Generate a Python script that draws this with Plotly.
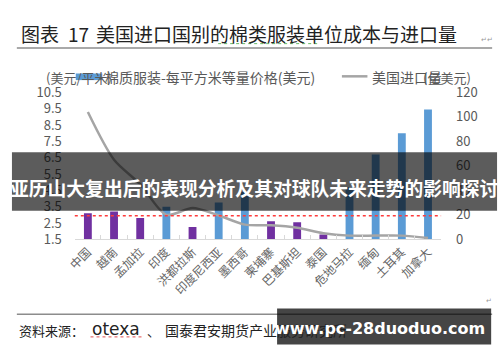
import plotly.graph_objects as go

# ---------------- data ----------------
categories = ["中国", "越南", "孟加拉", "印度", "洪都拉斯", "印度尼西亚", "墨西哥",
              "柬埔寨", "巴基斯坦", "泰国", "危地马拉", "缅甸", "土耳其", "加拿大"]
unit_price = [3.1, 3.2, 2.8, 3.5, 2.25, 3.75, 4.4, 2.6, 2.55, 1.8, 4.7, 6.7, 8.0, 9.45]
import_vol = [104, 65, 45, 20, 25.5, 19.5, 12, 11.5, 9.5, 5, 3, 3, 3, 1]
purple_group = ["中国", "越南", "孟加拉", "洪都拉斯", "柬埔寨", "巴基斯坦", "泰国"]
avg_price = 2.95
left_ticks = [1.5, 2.5, 3.5, 4.5, 5.5, 6.5, 7.5, 8.5, 9.5, 10.5]
right_ticks = [0, 20, 40, 60, 80, 100, 120]

title_text = "美国进口国别的棉类服装单位成本与进口量"
band_text = "亚历山大复出后的表现分析及其对球队未来走势的影响探讨"
source_text = "国泰君安期货产业服务研究所"
site_text = "www.pc-28duoduo.com"

# ---------------- styling ----------------
W, H = 500, 362
PURPLE = "#7030A0"
BLUE = "#5B9BD5"
GRAY_LINE = "#A5A5A5"
TXT = "#595959"
FONT = "Noto Sans CJK SC, Noto Sans, sans-serif"

bar_colors = [PURPLE if c in purple_group else BLUE for c in categories]

def px_x(x):
    return x / W

def px_y(y):
    return 1 - y / H

x0, x1 = 67, 440
yb, yt = 242, 87

fig = go.Figure()
fig.add_trace(go.Bar(x=categories, y=unit_price, marker=dict(color=bar_colors, line=dict(width=0)),
                     width=0.3, yaxis="y", showlegend=False, hoverinfo="skip"))
fig.add_trace(go.Scatter(x=categories, y=import_vol, mode="lines", yaxis="y2",
                         line=dict(color=GRAY_LINE, width=2.5, shape="spline", smoothing=0.8),
                         showlegend=False, hoverinfo="skip"))

fig.update_layout(
    width=W, height=H, autosize=False,
    margin=dict(l=0, r=0, t=0, b=0),
    paper_bgcolor="white", plot_bgcolor="white",
    font=dict(family=FONT, color=TXT, size=12),
    xaxis=dict(domain=[px_x(x0), px_x(x1)], tickangle=-45, showgrid=False,
               showline=True, linecolor="#D9D9D9", linewidth=1,
               ticks="inside", tickson="boundaries", ticklen=4, tickcolor="#D9D9D9",
               tickfont=dict(size=12, color="#666666", family=FONT), anchor="y"),
    yaxis=dict(domain=[px_y(yb), px_y(yt)], range=[1.5, 10.5], tickvals=left_ticks,
               ticktext=[f"{v:.1f}" for v in left_ticks], showgrid=False, zeroline=False,
               showline=False, tickfont=dict(size=13, color=TXT), ticklabelstandoff=12),
    yaxis2=dict(domain=[px_y(yb), px_y(yt)], range=[0, 120], tickvals=right_ticks,
                overlaying="y", side="right", anchor="x", showgrid=False, zeroline=False,
                showline=False, tickfont=dict(size=13, color=TXT), ticklabelstandoff=14),
    bargap=0.7,
)

shapes = []
annotations = []

def note(x, y, text, size, color="#222222", family=FONT, anchor="left"):
    annotations.append(dict(x=px_x(x), y=px_y(y), xref="paper", yref="paper", xanchor=anchor,
                            yanchor="middle", text=text, showarrow=False,
                            font=dict(size=size, color=color, family=family)))

# red dotted average line
shapes.append(dict(type="line", xref="paper", yref="y", x0=px_x(x0), x1=px_x(x1),
                   y0=avg_price, y1=avg_price, line=dict(color="#FF3B3B", width=1.5, dash="dot")))

# title
note(10, 25, "图表", 19)
note(58, 25, "17", 19)
note(87, 25, title_text, 19)
note(479, 31, "↵↵", 7, color="#999999")
shapes.append(dict(type="line", xref="paper", yref="paper", x0=px_x(8), x1=px_x(492),
                   y0=px_y(40), y1=px_y(40), line=dict(color="#8C8C8C", width=1.5)))
shapes.append(dict(type="line", xref="paper", yref="paper", x0=px_x(213), x1=px_x(315),
                   y0=px_y(35.5), y1=px_y(35.5), line=dict(color="#66BB66", width=1, dash="dot")))

# legend / axis titles
note(36, 71, "(美元/平米)", 13, color=TXT)
shapes.append(dict(type="rect", xref="paper", yref="paper", x0=px_x(68), x1=px_x(95),
                   y0=px_y(74), y1=px_y(67), fillcolor=BLUE, line=dict(width=0)))
note(96, 71, "棉质服装-每平方米等量价格(美元)", 14, color=TXT)
shapes.append(dict(type="line", xref="paper", yref="paper", x0=px_x(339), x1=px_x(365),
                   y0=px_y(70), y1=px_y(70), line=dict(color=GRAY_LINE, width=2.5)))
note(368, 71, "美国进口量", 14, color=TXT)
note(473, 71, "(亿美元)", 13, color=TXT, anchor="right")

# bottom source
shapes.append(dict(type="line", xref="paper", yref="paper", x0=px_x(8), x1=px_x(492),
                   y0=px_y(321), y1=px_y(321), line=dict(color="#8C8C8C", width=1.5)))
note(8, 338, "资料来源：", 13)
note(82, 337, "otexa", 17, family="DejaVu Sans, sans-serif")
shapes.append(dict(type="line", xref="paper", yref="paper", x0=px_x(83), x1=px_x(137),
                   y0=px_y(345), y1=px_y(345), line=dict(color="#E05050", width=1, dash="dot")))
note(138, 338, "、", 13)
note(157, 338, source_text, 14)
note(484, 306, "↵", 7, color="#999999")

# overlay band
shapes.append(dict(type="rect", xref="paper", yref="paper", x0=px_x(3), x1=px_x(497),
                   y0=px_y(212), y1=px_y(150), fillcolor="rgba(0,0,0,0.64)", line=dict(width=0),
                   layer="above"))
note(250, 187, f"<b>{band_text}</b>", 18.8, color="white", anchor="center")

# bottom right overlay box
shapes.append(dict(type="rect", xref="paper", yref="paper", x0=px_x(273), x1=px_x(491),
                   y0=px_y(353), y1=px_y(315), fillcolor="rgba(0,0,0,0.73)", line=dict(width=0),
                   layer="above"))
note(378, 336, f"<b>{site_text}</b>", 16, color="white", family="DejaVu Sans, sans-serif",
     anchor="center")

fig.update_layout(shapes=shapes, annotations=annotations)
fig.write_html("out.html", config={"displayModeBar": False, "staticPlot": True},
               post_script="document.body.style.margin='0';document.body.style.overflow='hidden';")
